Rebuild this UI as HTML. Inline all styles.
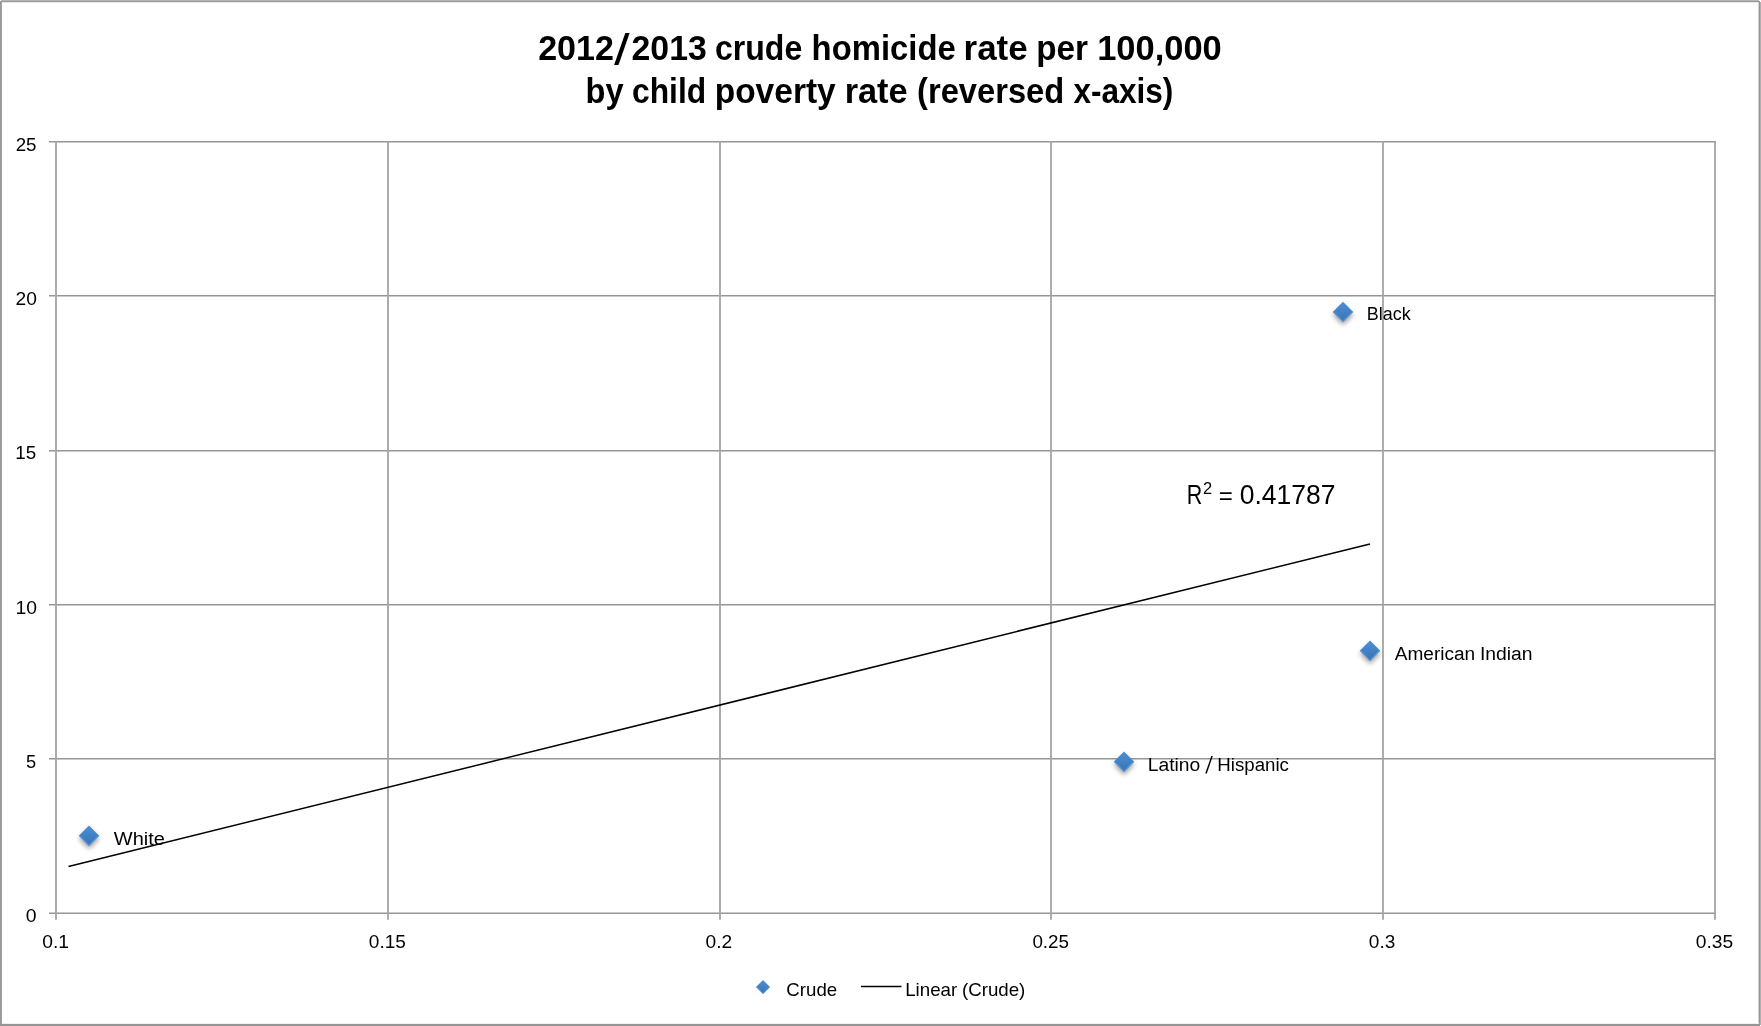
<!DOCTYPE html>
<html><head><meta charset="utf-8"><title>chart</title>
<style>
html,body{margin:0;padding:0;background:#fff;}
body{width:1761px;height:1026px;overflow:hidden;position:relative;font-family:"Liberation Sans",sans-serif;}
svg{position:absolute;left:0;top:0;}
text{font-family:"Liberation Sans",sans-serif;fill:#000;}
</style></head><body>
<svg width="1761" height="1026" viewBox="0 0 1761 1026">
<defs>
<linearGradient id="dg" x1="0" y1="0" x2="0" y2="1">
<stop offset="0" stop-color="#4b90d8"/><stop offset="1" stop-color="#3872b2"/>
</linearGradient>
<filter id="sh" x="-80%" y="-80%" width="260%" height="260%">
<feGaussianBlur in="SourceAlpha" stdDeviation="2.4"/>
<feOffset dx="0" dy="3.2" result="b"/>
<feComponentTransfer><feFuncA type="linear" slope="0.38"/></feComponentTransfer>
<feMerge><feMergeNode/><feMergeNode in="SourceGraphic"/></feMerge>
</filter>
<filter id="gs" x="0" y="0" width="1761" height="1026" filterUnits="userSpaceOnUse"><feColorMatrix type="saturate" values="0"/></filter>
</defs>
<rect x="0" y="0" width="1761" height="1026" fill="#fff"/>
<g shape-rendering="crispEdges"><rect x="1" y="0" width="1758" height="1" fill="#b5b5b5"/><rect x="1" y="1" width="1759" height="1" fill="#9a9a9a"/><rect x="2" y="2" width="1756" height="1" fill="#e8e8e8"/><rect x="0" y="1" width="1" height="1025" fill="#999999"/><rect x="1" y="1" width="1" height="1025" fill="#a1a1a1"/><rect x="1758" y="2" width="1" height="1021" fill="#d2d2d2"/><rect x="1759" y="1" width="1" height="1024" fill="#969696"/><rect x="1760" y="2" width="1" height="1023" fill="#b0b0b0"/><rect x="2" y="1023" width="1757" height="1" fill="#efefef"/><rect x="0" y="1024" width="1760" height="1" fill="#939393"/><rect x="0" y="1025" width="1760" height="1" fill="#969696"/></g>
<g stroke="#969696" stroke-width="1.5"><line x1="49" y1="141.75" x2="1715.9" y2="141.75"/><line x1="49" y1="295.75" x2="1715.9" y2="295.75"/><line x1="49" y1="450.75" x2="1715.9" y2="450.75"/><line x1="49" y1="604.75" x2="1715.9" y2="604.75"/><line x1="49" y1="758.75" x2="1715.9" y2="758.75"/><line x1="49" y1="913.25" x2="1715.9" y2="913.25"/></g>
<g stroke="#a4a4a4" stroke-width="1.8"><line x1="56.0" y1="141.0" x2="56.0" y2="919.8"/><line x1="388.0" y1="141.0" x2="388.0" y2="919.8"/><line x1="720.0" y1="141.0" x2="720.0" y2="919.8"/><line x1="1051.0" y1="141.0" x2="1051.0" y2="919.8"/><line x1="1383.0" y1="141.0" x2="1383.0" y2="919.8"/><line x1="1715.0" y1="141.0" x2="1715.0" y2="919.8"/></g>
<line x1="68.5" y1="866.5" x2="1370" y2="543.9" stroke="#000" stroke-width="1.5"/>
<path d="M89.0 825.6L99.2 835.8L89.0 846.0L78.8 835.8Z" fill="url(#dg)" filter="url(#sh)"/>
<clipPath id="c89"><path d="M89.0 825.6L99.2 835.8L89.0 846.0L78.8 835.8Z"/></clipPath>
<path d="M78.8 835.8L89.0 846.0L99.2 835.8" fill="none" stroke="#5c9ad8" stroke-width="2.4" stroke-opacity="0.8" clip-path="url(#c89)"/>
<path d="M1343.0 301.7L1353.2 311.9L1343.0 322.1L1332.8 311.9Z" fill="url(#dg)" filter="url(#sh)"/>
<clipPath id="c1343"><path d="M1343.0 301.7L1353.2 311.9L1343.0 322.1L1332.8 311.9Z"/></clipPath>
<path d="M1332.8 311.9L1343.0 322.1L1353.2 311.9" fill="none" stroke="#5c9ad8" stroke-width="2.4" stroke-opacity="0.8" clip-path="url(#c1343)"/>
<path d="M1370.0 640.6L1380.2 650.8L1370.0 661.0L1359.8 650.8Z" fill="url(#dg)" filter="url(#sh)"/>
<clipPath id="c1370"><path d="M1370.0 640.6L1380.2 650.8L1370.0 661.0L1359.8 650.8Z"/></clipPath>
<path d="M1359.8 650.8L1370.0 661.0L1380.2 650.8" fill="none" stroke="#5c9ad8" stroke-width="2.4" stroke-opacity="0.8" clip-path="url(#c1370)"/>
<path d="M1124.0 751.6L1134.2 761.8L1124.0 772.0L1113.8 761.8Z" fill="url(#dg)" filter="url(#sh)"/>
<clipPath id="c1124"><path d="M1124.0 751.6L1134.2 761.8L1124.0 772.0L1113.8 761.8Z"/></clipPath>
<path d="M1113.8 761.8L1124.0 772.0L1134.2 761.8" fill="none" stroke="#5c9ad8" stroke-width="2.4" stroke-opacity="0.8" clip-path="url(#c1124)"/>
<path d="M763 980L770 987L763 994L756 987Z" fill="url(#dg)"/>
<clipPath id="cleg"><path d="M763 980L770 987L763 994L756 987Z"/></clipPath>
<path d="M756 987L763 994L770 987" fill="none" stroke="#5c9ad8" stroke-width="2" stroke-opacity="0.8" clip-path="url(#cleg)"/>
<line x1="861" y1="986.6" x2="901.5" y2="986.6" stroke="#000" stroke-width="1.5"/>
<path d="M625.3 32.9L629.6 32.9L618.5 65.0L614.1 65.0Z" fill="#000"/>
<path d="M1211.3 756.1L1212.8 756.1L1206.8 773.6L1205.2 773.6Z" fill="#000"/>
<g filter="url(#gs)">
<text x="15.70" y="151.20" font-size="19.2" textLength="20.84" lengthAdjust="spacingAndGlyphs">25</text>
<text x="15.62" y="305.00" font-size="19.2" textLength="21.35" lengthAdjust="spacingAndGlyphs">20</text>
<text x="15.30" y="459.00" font-size="19.2" textLength="20.91" lengthAdjust="spacingAndGlyphs">15</text>
<text x="15.42" y="614.00" font-size="19.2" textLength="21.54" lengthAdjust="spacingAndGlyphs">10</text>
<text x="25.95" y="768.20" font-size="19.2" textLength="10.15" lengthAdjust="spacingAndGlyphs">5</text>
<text x="25.74" y="921.90" font-size="19.2" textLength="10.78" lengthAdjust="spacingAndGlyphs">0</text>
<text x="42.23" y="948.00" font-size="19.2" textLength="26.78" lengthAdjust="spacingAndGlyphs">0.1</text>
<text x="368.80" y="948.20" font-size="19.2" textLength="37.05" lengthAdjust="spacingAndGlyphs">0.15</text>
<text x="705.49" y="948.00" font-size="19.2" textLength="26.63" lengthAdjust="spacingAndGlyphs">0.2</text>
<text x="1032.39" y="948.00" font-size="19.2" textLength="36.59" lengthAdjust="spacingAndGlyphs">0.25</text>
<text x="1368.83" y="948.00" font-size="19.2" textLength="26.49" lengthAdjust="spacingAndGlyphs">0.3</text>
<text x="1695.80" y="948.00" font-size="19.2" textLength="37.37" lengthAdjust="spacingAndGlyphs">0.35</text>
<text x="113.85" y="844.90" font-size="19.2" textLength="51.05" lengthAdjust="spacingAndGlyphs">White</text>
<text x="1366.81" y="319.60" font-size="19.2" textLength="43.94" lengthAdjust="spacingAndGlyphs">Black</text>
<text x="1394.74" y="660.00" font-size="19.2" textLength="80.46" lengthAdjust="spacingAndGlyphs">American</text>
<text x="1479.95" y="660.00" font-size="19.2" textLength="52.64" lengthAdjust="spacingAndGlyphs">Indian</text>
<text x="1147.75" y="770.90" font-size="19.2" textLength="52.48" lengthAdjust="spacingAndGlyphs">Latino</text>
<text x="1217.33" y="770.90" font-size="19.2" textLength="71.62" lengthAdjust="spacingAndGlyphs">Hispanic</text>
<text x="1186.84" y="503.90" font-size="26.8" textLength="15.54" lengthAdjust="spacingAndGlyphs">R</text>
<text x="1202.95" y="493.60" font-size="15.6" textLength="9.16" lengthAdjust="spacingAndGlyphs">2</text>
<text x="1218.71" y="504.10" font-size="24" textLength="14.05" lengthAdjust="spacingAndGlyphs">=</text>
<text x="1239.73" y="503.90" font-size="26.8" textLength="95.86" lengthAdjust="spacingAndGlyphs">0.41787</text>
<text x="538.14" y="60.10" font-size="34.5" font-weight="bold" textLength="75.67" lengthAdjust="spacingAndGlyphs">2012</text>
<text x="631.56" y="60.10" font-size="34.5" font-weight="bold" textLength="75.23" lengthAdjust="spacingAndGlyphs">2013</text>
<text x="715.00" y="60.10" font-size="34.5" font-weight="bold" textLength="87.25" lengthAdjust="spacingAndGlyphs">crude</text>
<text x="811.60" y="60.10" font-size="34.5" font-weight="bold" textLength="144.12" lengthAdjust="spacingAndGlyphs">homicide</text>
<text x="963.56" y="60.10" font-size="34.5" font-weight="bold" textLength="64.04" lengthAdjust="spacingAndGlyphs">rate</text>
<text x="1036.23" y="60.10" font-size="34.5" font-weight="bold" textLength="51.80" lengthAdjust="spacingAndGlyphs">per</text>
<text x="1097.21" y="60.10" font-size="34.5" font-weight="bold" textLength="124.54" lengthAdjust="spacingAndGlyphs">100,000</text>
<text x="585.60" y="103.00" font-size="34.5" font-weight="bold" textLength="38.03" lengthAdjust="spacingAndGlyphs">by</text>
<text x="632.04" y="103.00" font-size="34.5" font-weight="bold" textLength="74.13" lengthAdjust="spacingAndGlyphs">child</text>
<text x="714.67" y="103.00" font-size="34.5" font-weight="bold" textLength="121.07" lengthAdjust="spacingAndGlyphs">poverty</text>
<text x="844.66" y="103.00" font-size="34.5" font-weight="bold" textLength="63.01" lengthAdjust="spacingAndGlyphs">rate</text>
<text x="917.12" y="103.00" font-size="34.5" font-weight="bold" textLength="147.09" lengthAdjust="spacingAndGlyphs">(reversed</text>
<text x="1073.38" y="103.00" font-size="34.5" font-weight="bold" textLength="100.01" lengthAdjust="spacingAndGlyphs">x-axis)</text>
<text x="786.35" y="996.00" font-size="19" textLength="50.79" lengthAdjust="spacingAndGlyphs">Crude</text>
<text x="905.16" y="995.90" font-size="19" textLength="52.07" lengthAdjust="spacingAndGlyphs">Linear</text>
<text x="961.92" y="995.90" font-size="19" textLength="63.43" lengthAdjust="spacingAndGlyphs">(Crude)</text>
</g>
</svg>
</body></html>
